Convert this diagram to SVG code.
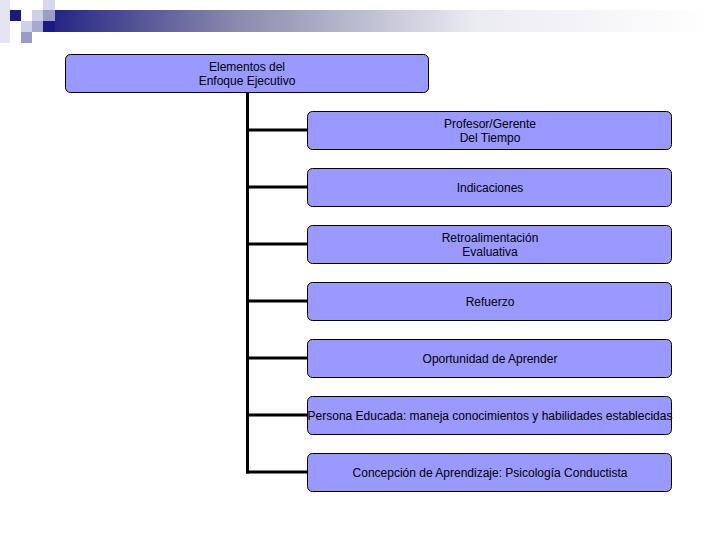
<svg xmlns="http://www.w3.org/2000/svg" width="720" height="540" viewBox="0 0 720 540">
<defs>
<linearGradient id="bar" x1="0" y1="0" x2="1" y2="0">
<stop offset="0" stop-color="#1a1a80"/>
<stop offset="0.3" stop-color="#8a8aae"/>
<stop offset="0.65" stop-color="#ebebf2"/>
<stop offset="1" stop-color="#ffffff"/>
</linearGradient>
<style>
.node rect{fill:#9999ff;stroke:#000;stroke-width:1}
.node text{font-family:"Liberation Sans",Arial,sans-serif;font-size:12px;fill:#000;text-anchor:middle}
.conn line{stroke:#000;stroke-width:3}
</style>
</defs>
<rect width="720" height="540" fill="#fff"/>
<g id="decoration">
<rect x="33" y="10" width="680" height="22" fill="url(#bar)"/>
<rect x="0" y="0" width="10" height="43" fill="#e4e4f2"/>
<rect x="10" y="10" width="11" height="11" fill="#1a1a80"/>
<rect x="32" y="10" width="11" height="11" fill="#cfcfe8"/>
<rect x="43" y="0" width="12" height="10" fill="#d8d8ec"/>
<rect x="43" y="10" width="12" height="11" fill="#9c9cc8"/>
<rect x="43" y="21" width="12" height="11" fill="#1a1a80"/>
<rect x="21" y="21" width="11" height="11" fill="#d0d0ea"/>
<rect x="32" y="21" width="11" height="11" fill="#a8a8d4"/>
<rect x="21" y="32" width="11" height="11" fill="#9a9acb"/>
</g>
<g class="conn" id="connectors">
<line x1="247.5" y1="92" x2="247.5" y2="473.5"/>
<line x1="246" y1="130" x2="308" y2="130"/>
<line x1="246" y1="187" x2="308" y2="187"/>
<line x1="246" y1="244" x2="308" y2="244"/>
<line x1="246" y1="301" x2="308" y2="301"/>
<line x1="246" y1="358" x2="308" y2="358"/>
<line x1="246" y1="415" x2="308" y2="415"/>
<line x1="246" y1="472" x2="308" y2="472"/>
</g>
<g class="node" id="root">
<rect x="65.5" y="54.5" width="363" height="38" rx="5"/>
<text x="247" y="71">Elementos del</text>
<text x="247" y="85">Enfoque Ejecutivo</text>
</g>
<g class="node" id="n1">
<rect x="307.5" y="111.5" width="364" height="38" rx="5"/>
<text x="490" y="128">Profesor/Gerente</text>
<text x="490" y="142">Del Tiempo</text>
</g>
<g class="node" id="n2">
<rect x="307.5" y="168.5" width="364" height="38" rx="5"/>
<text x="490" y="192">Indicaciones</text>
</g>
<g class="node" id="n3">
<rect x="307.5" y="225.5" width="364" height="38" rx="5"/>
<text x="490" y="242">Retroalimentación</text>
<text x="490" y="256">Evaluativa</text>
</g>
<g class="node" id="n4">
<rect x="307.5" y="282.5" width="364" height="38" rx="5"/>
<text x="490" y="306">Refuerzo</text>
</g>
<g class="node" id="n5">
<rect x="307.5" y="339.5" width="364" height="38" rx="5"/>
<text x="490" y="363">Oportunidad de Aprender</text>
</g>
<g class="node" id="n6">
<rect x="307.5" y="396.5" width="364" height="38" rx="5"/>
<text x="490" y="420">Persona Educada: maneja conocimientos y habilidades establecidas</text>
</g>
<g class="node" id="n7">
<rect x="307.5" y="453.5" width="364" height="38" rx="5"/>
<text x="490" y="477">Concepción de Aprendizaje: Psicología Conductista</text>
</g>
</svg>
